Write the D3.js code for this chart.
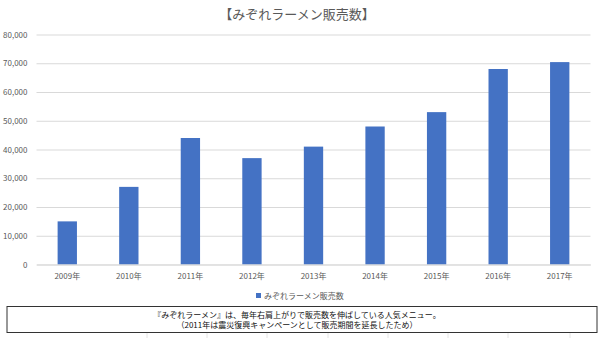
<!DOCTYPE html>
<html><head><meta charset="utf-8">
<script src="https://cdn.jsdelivr.net/npm/d3@7"></script>
<style>body{margin:0;background:#fff}svg{display:block}</style>
</head><body>
<script>
const categories = ["2009年","2010年","2011年","2012年","2013年","2014年","2015年","2016年","2017年"];
const sales = [15000, 27000, 44000, 37000, 41000, 48000, 53000, 68000, 70400];
const yTicks = [0,10000,20000,30000,40000,50000,60000,70000,80000];
const title = "【みぞれラーメン販売数】";
const seriesName = "みぞれラーメン販売数";
const noteLines = ["『みぞれラーメン』は、毎年右肩上がりで販売数を伸ばしている人気メニュー。",
                   "（2011年は震災復興キャンペーンとして販売期間を延長したため）"];

const W=600,H=338;
const svg=d3.select("body").append("svg").attr("width",W).attr("height",H);
const font="'Noto Sans CJK JP','Noto Sans',sans-serif";
const plot={l:36.5,r:590.5,t:34.5,b:264.5};
const x=d3.scaleBand().domain(categories).range([plot.l,plot.r]).paddingInner(0.686).paddingOuter(0.343);
const y=d3.scaleLinear().domain([0,80000]).range([plot.b,plot.t]);

// spreadsheet cell lines under the box
const cellX=[147,207,267,328,388,448,508,570];
svg.append("g").selectAll("line").data(cellX).join("line")
  .attr("x1",d=>d).attr("x2",d=>d).attr("y1",333).attr("y2",338)
  .attr("stroke","#e4e4e4").attr("stroke-width",1);

svg.append("text").attr("x",297).attr("y",19).attr("text-anchor","middle")
  .attr("font-family",font).attr("font-size",13).attr("fill","#595959").text(title);

// grid
const yAxis=d3.axisLeft(y).tickValues(yTicks).tickSize(-(plot.r-plot.l)).tickFormat(d3.format(","));
const gy=svg.append("g").attr("transform",`translate(${plot.l},0)`).call(yAxis);
gy.select(".domain").remove();
gy.selectAll(".tick line").attr("stroke","#d9d9d9");
gy.selectAll(".tick text").attr("x",-9).attr("fill","#595959").attr("font-size",8).attr("font-family",font);

svg.append("g").selectAll("rect").data(sales).join("rect")
  .attr("x",(d,i)=>x(categories[i])).attr("width",x.bandwidth())
  .attr("y",d=>y(d)).attr("height",d=>y(0)-y(d)).attr("fill","#4472c4");

const xAxis=d3.axisBottom(x).tickSize(0).tickPadding(9);
const gx=svg.append("g").attr("transform",`translate(0,${plot.b})`).call(xAxis);
gx.select(".domain").attr("stroke","#d9d9d9");
gx.selectAll(".tick text").attr("fill","#595959").attr("font-size",8).attr("font-family",font);

// legend
svg.append("rect").attr("x",256).attr("y",293).attr("width",5).attr("height",5).attr("fill","#4472c4");
svg.append("text").attr("x",264).attr("y",299).attr("font-family",font).attr("font-size",8)
  .attr("fill","#595959").text(seriesName);

// note box
svg.append("rect").attr("x",7).attr("y",306.5).attr("width",590).attr("height",26)
  .attr("fill","#fff").attr("stroke","#333").attr("stroke-width",1);
svg.append("g").selectAll("text").data(noteLines).join("text")
  .attr("x",297).attr("y",(d,i)=>317.5+i*10).attr("text-anchor","middle")
  .attr("font-family",font).attr("font-size",8).attr("fill","#111").text(d=>d);
</script>
</body></html>
